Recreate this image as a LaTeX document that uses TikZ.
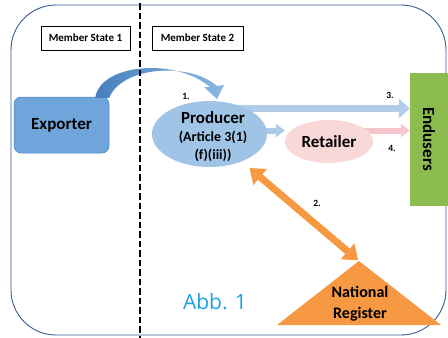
\documentclass[tikz,border=0pt]{standalone}
\usepackage{fontspec}
\setmainfont{Carlito}
\newfontfamily\abbfont{Open Sans}
\usetikzlibrary{arrows.meta,backgrounds,calc,shapes.geometric}
\definecolor{expblue}{RGB}{111,165,218}
\definecolor{expdark}{RGB}{70,128,190}
\definecolor{prodblue}{RGB}{160,196,230}
\definecolor{arrblue}{RGB}{176,204,233}
\definecolor{retpink}{RGB}{249,216,216}
\definecolor{arrpink}{RGB}{245,198,203}
\definecolor{endgreen}{RGB}{140,187,80}
\definecolor{regorange}{RGB}{247,152,66}
\definecolor{framecol}{RGB}{55,90,145}
\definecolor{abbblue}{RGB}{25,160,225}
\tikzset{
  msbox/.style={draw=black, line width=0.8pt, fill=white, minimum height=24pt, inner sep=0pt,
    font=\bfseries\fontsize{11}{12}\selectfont},
  bigtxt/.style={font=\bfseries\fontsize{17}{19}\selectfont},
  numlbl/.style={font=\bfseries\fontsize{9.5}{10}\selectfont, inner sep=0pt},
  flatarrow/.style={line width=7pt, -{Triangle[width=19pt,length=11pt]}},
  divider/.style={draw=black, line width=2.8pt, dash pattern=on 6.5pt off 3pt}
}
\begin{document}
\begin{tikzpicture}[x=1pt,y=-1pt]
\useasboundingbox (0,0) rectangle (448,338);
% frame
\draw[framecol, line width=0.9pt, rounded corners=45pt] (11,5) rectangle (446,335);
% member state boxes
\node[msbox, minimum width=89pt] (ms1) at (85.5,38) {Member State 1};
\node[msbox, minimum width=91pt] (ms2) at (197.5,38) {Member State 2};
% exporter
\node[bigtxt, fill=expblue, draw=expdark, line width=0.5pt, rounded corners=7pt,
  minimum width=95pt, minimum height=56pt, inner sep=0pt] (exporter) at (61.5,125) {Exporter};
% producer
\node[ellipse, fill=prodblue, minimum width=115pt, minimum height=66pt, inner sep=0pt] (producer) at (209.5,134) {};
\node[align=center, inner sep=0pt, font=\bfseries\fontsize{14}{18}\selectfont] (prodtxt) at (213,137)
  {{\fontsize{17}{18}\selectfont Producer}\\(Article 3(1)\\(f)(iii))};
% retailer
\node[ellipse, fill=retpink, minimum width=88pt, minimum height=43pt, inner sep=0pt, bigtxt] (retailer) at (329,141.5) {Retailer};
% endusers
\node[fill=endgreen, minimum width=38pt, minimum height=133pt, inner sep=0pt] (endusers) at (429,139) {};
\node[bigtxt, rotate=-90] (endtxt) at (endusers.center) {Endusers};
% national register
\coordinate (regtop) at (359,261);
\fill[regorange] (277,325) -- (regtop) -- (441,325) -- cycle;
\node[align=center, inner sep=0pt, font=\bfseries\fontsize{16}{21}\selectfont] (register) at (360,304) {National\\Register};
% arrows behind
\begin{scope}[on background layer]
\draw[flatarrow, arrblue] (producer.center |- 0,108.5) -- (endusers.west |- 0,108.5);
\draw[flatarrow, arrpink, line width=6pt, -{Triangle[width=13pt,length=9pt]}] (retailer.center |- 0,130.5) -- (endusers.west |- 0,130.5);
\draw[flatarrow, arrblue!80!prodblue, line width=6pt, -{Triangle[width=13pt,length=9pt]}] (producer.center |- 0,130.5) -- (retailer.west |- 0,130.5);
\end{scope}
% orange double arrow
\draw[regorange, line width=7pt, {Triangle[width=20pt,length=14pt]}-{Triangle[width=20pt,length=14pt]},
  shorten <=10pt, shorten >=1pt] (producer) -- (regtop);
% curved arrow exporter -> producer
\shade[left color=expdark, right color=expblue!80!white]
  ($(exporter.north east)+(-14,1)$) .. controls (100,64) and (175,57) .. (210,87)
  -- (204,87) -- (217,99) -- (224,85) -- (217,86)
  .. controls (190,62) and (122,66) .. ($(exporter.north east)+(0,1)$) -- cycle;
% divider
\draw[divider] (140,3) -- (140,338);
% labels
\node[numlbl] (l1) at (186,96) {1.};
\node[numlbl] (l2) at (317,203) {2.};
\node[numlbl] (l3) at (390,95) {3.};
\node[numlbl] (l4) at (392,148) {4.};
\node[text=abbblue, font=\abbfont\fontsize{21}{24}\selectfont, inner sep=0pt] (abb) at (215,302) {Abb. 1};
\end{tikzpicture}
\end{document}
